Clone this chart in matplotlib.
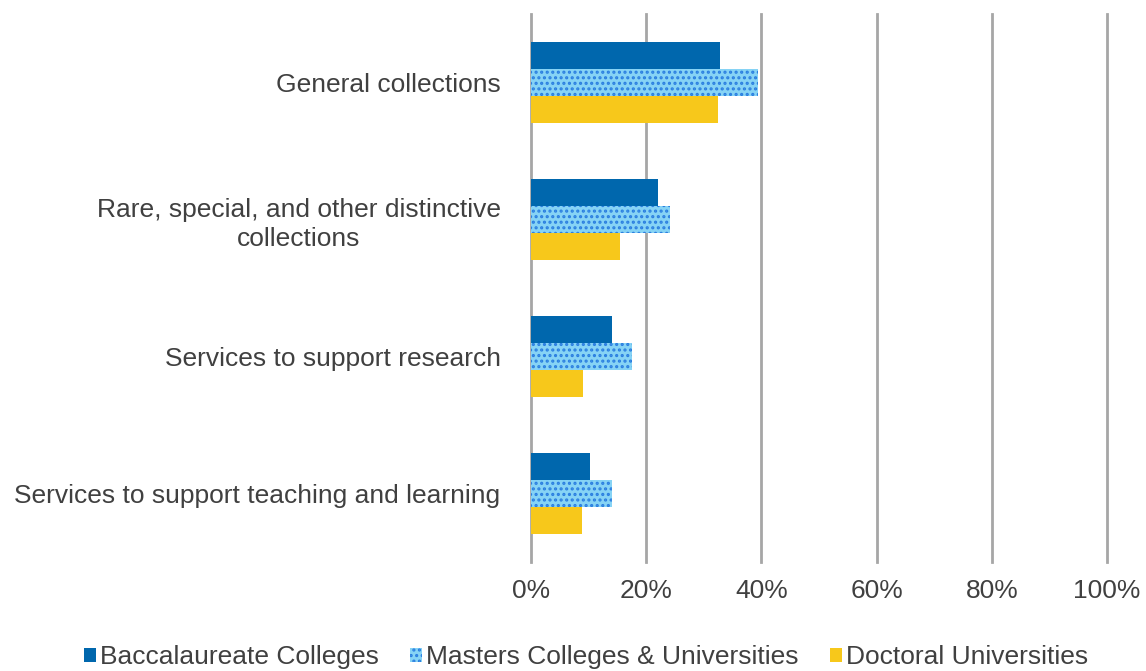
import matplotlib
matplotlib.use("Agg")
import matplotlib.pyplot as plt
import numpy as np
from matplotlib.patches import Patch

plt.rcParams['font.family'] = ['Liberation Sans', 'DejaVu Sans']
plt.rcParams['hatch.linewidth'] = 1.5

categories = ["General collections",
              "Rare, special, and other distinctive\ncollections",
              "Services to support research",
              "Services to support teaching and learning"]
series_names = ["Baccalaureate Colleges", "Masters Colleges & Universities", "Doctoral Universities"]
bacc = [32.8, 22.0, 14.0, 10.2]
masters = [39.4, 24.1, 17.5, 14.1]
doctoral = [32.5, 15.5, 9.0, 8.8]
xticks = [0, 20, 40, 60, 80, 100]
xticklabels = ["0%", "20%", "40%", "60%", "80%", "100%"]

c_bacc = "#0067ad"
c_mast = "#86d3f5"
c_mast_h = "#2a7ee0"
c_doc = "#f7c81b"
txt = "#404040"
FS = 19

fig = plt.figure(figsize=(11.46, 6.71), dpi=100)
ax = fig.add_axes([0.4634, 0.1625, 0.9660 - 0.4634, 0.979 - 0.1625])

y = np.arange(len(categories))
h = 0.197
ax.barh(y - h, bacc, height=h, color=c_bacc, zorder=3)
ax.barh(y, masters, height=h, facecolor=c_mast, edgecolor=c_mast_h, hatch='...', linewidth=0, zorder=3)
ax.barh(y + h, doctoral, height=h, color=c_doc, zorder=3)

ax.set_ylim(len(categories) - 0.5, -0.5)
ax.set_xlim(0, 100)
ax.set_xticks(xticks)
ax.set_xticklabels(xticklabels, fontsize=FS, color=txt)
ax.set_yticks(y)
ax.set_yticklabels(categories, fontsize=FS, color=txt, multialignment='center', linespacing=1.25)
ax.tick_params(axis='y', length=0, pad=22)
ax.tick_params(axis='x', length=0, pad=12)
ax.grid(axis='x', color='#a6a6a6', linewidth=2, zorder=0)
for gl in ax.get_xgridlines():
    gl.set_clip_on(False)
for s in ax.spines.values():
    s.set_visible(False)

handles = [Patch(facecolor=c_bacc, edgecolor='none'),
           Patch(facecolor=c_mast, edgecolor=c_mast_h, hatch='...', linewidth=0),
           Patch(facecolor=c_doc, edgecolor='none')]
leg = fig.legend(handles, series_names, loc='center', bbox_to_anchor=(586/1146, 1 - 657/671),
                 ncol=3, frameon=False, fontsize=FS, handlelength=0.45, handleheight=0.45,
                 handletextpad=0.15, columnspacing=1.2, borderaxespad=0)
for t in leg.get_texts():
    t.set_color(txt)

fig.savefig("out.png", dpi=100)
